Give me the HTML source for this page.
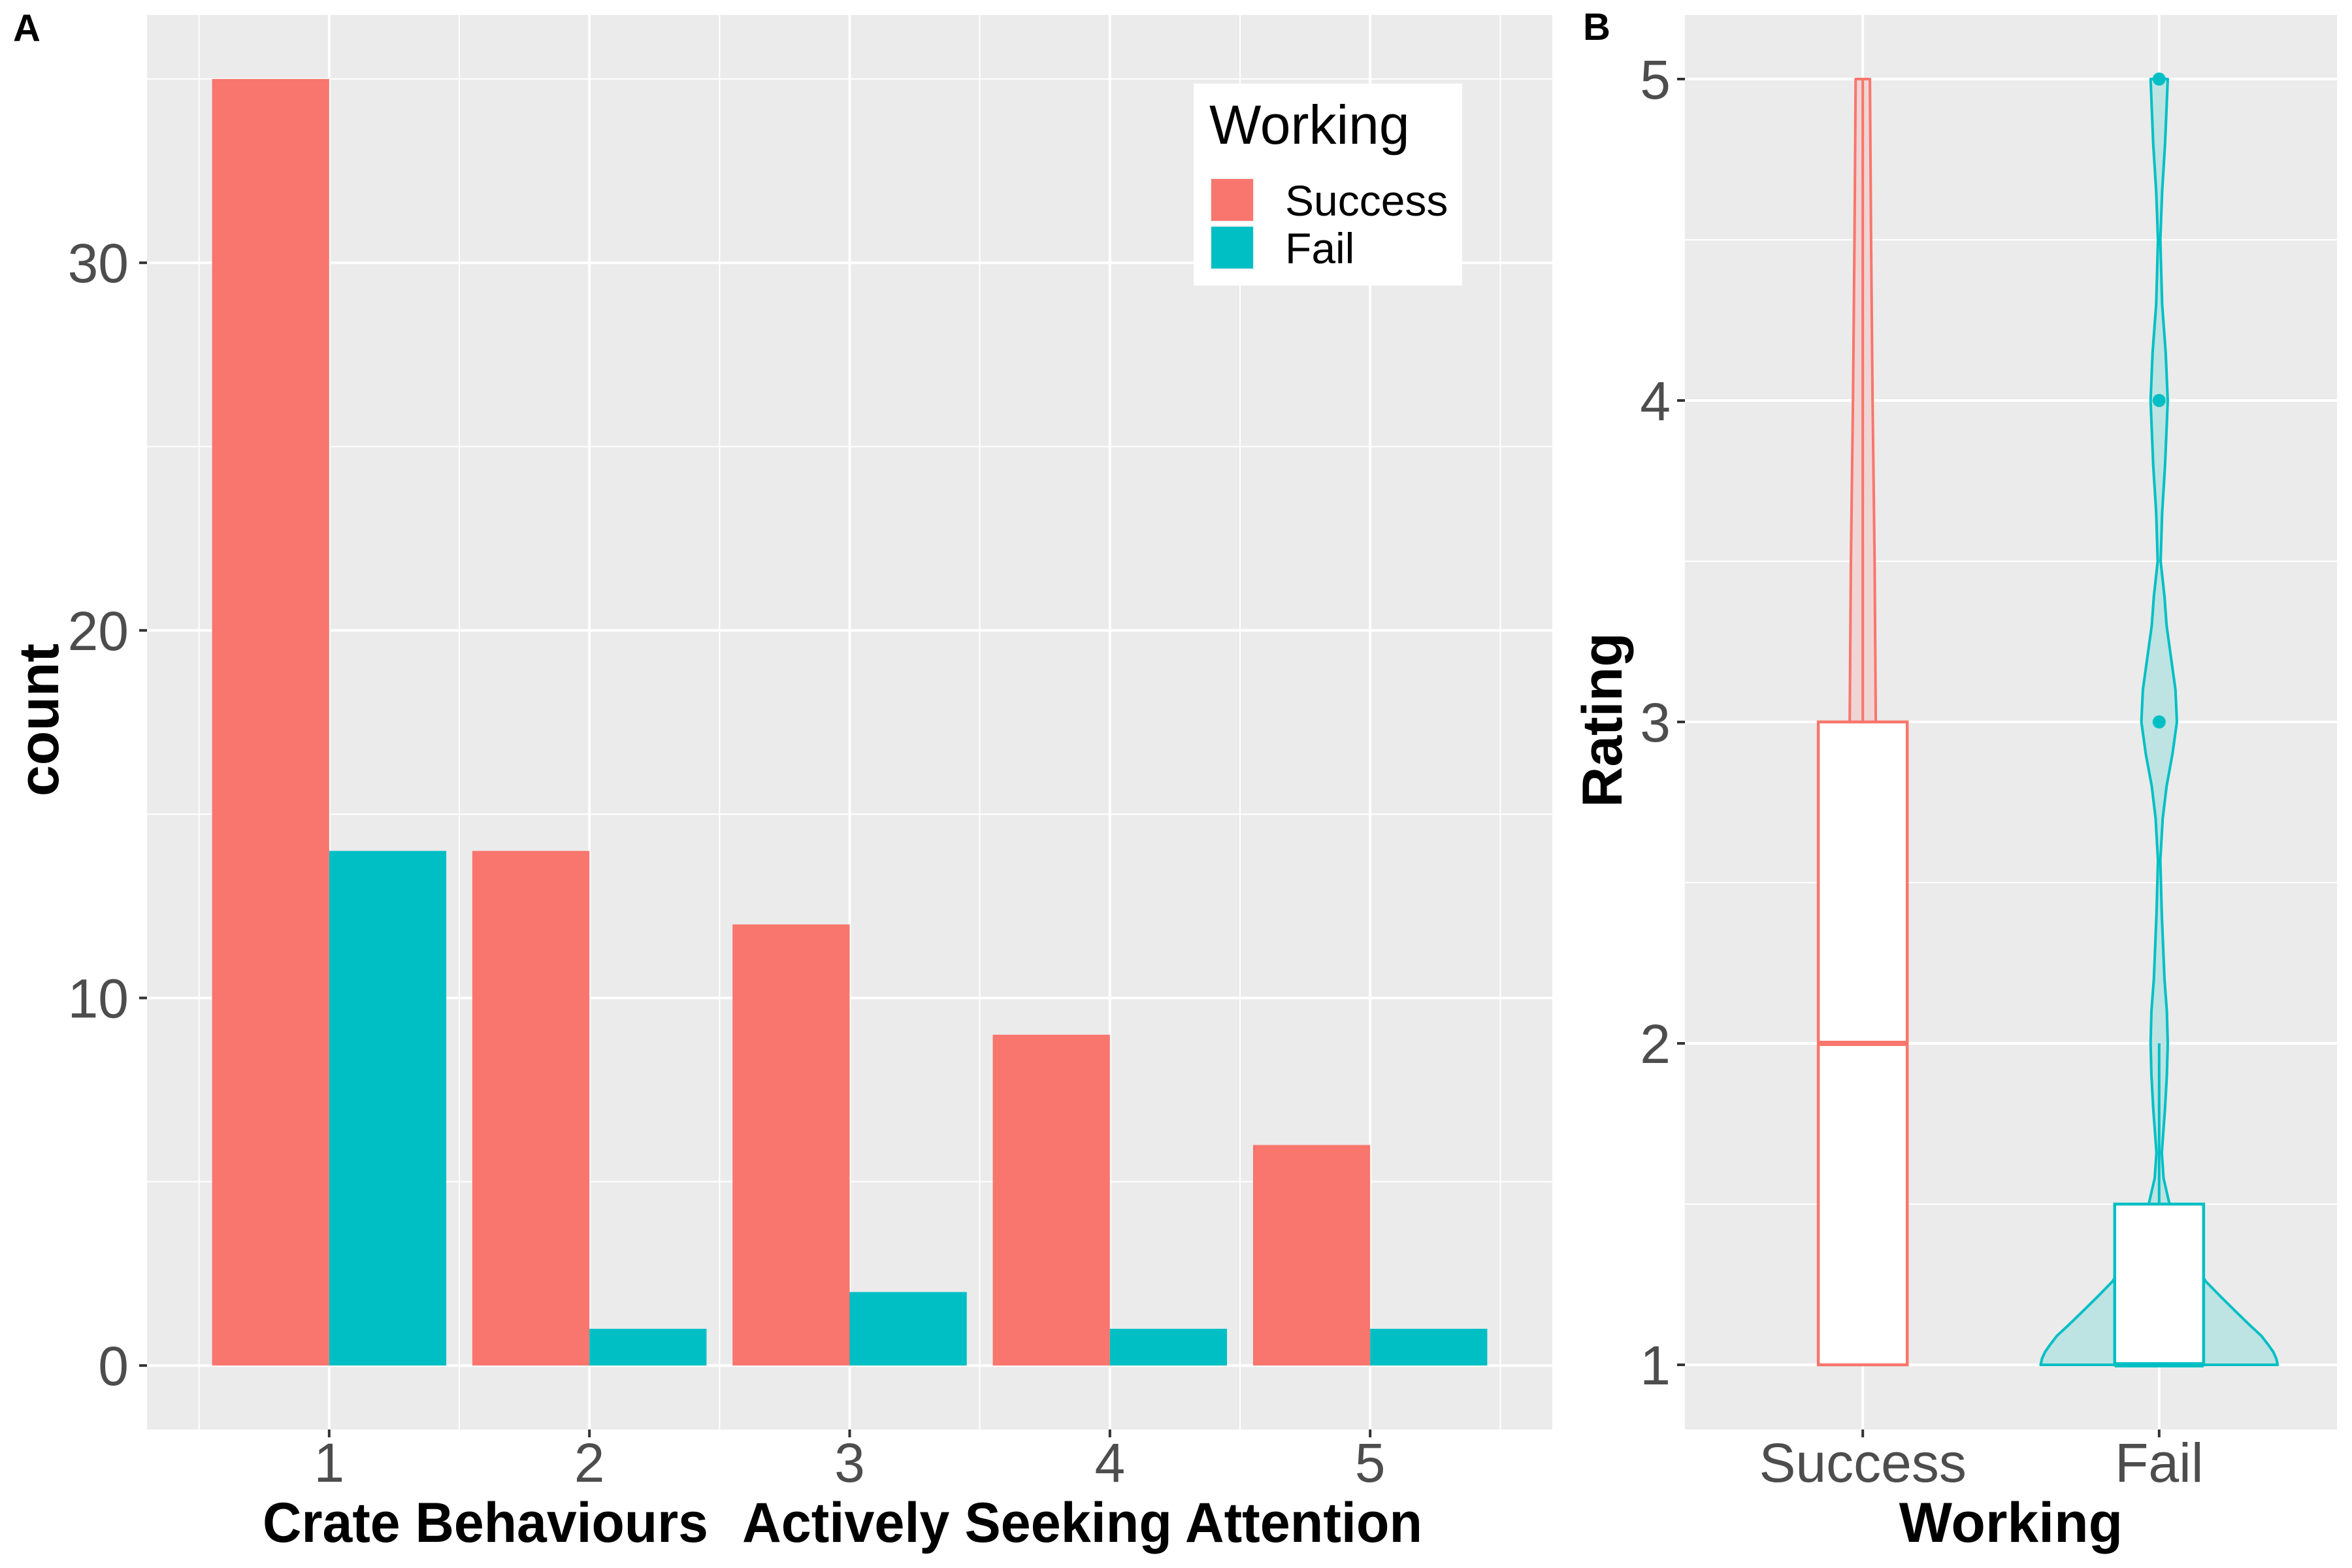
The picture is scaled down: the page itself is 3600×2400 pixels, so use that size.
<!DOCTYPE html>
<html><head><meta charset="utf-8">
<style>
html,body{margin:0;padding:0;background:#fff;}
svg{display:block;font-family:"Liberation Sans",Arial,sans-serif;}
</style></head>
<body>
<svg id="chart" xmlns="http://www.w3.org/2000/svg" width="3600" height="2400" viewBox="0 0 3600 2400">
<rect width="3600" height="2400" fill="#fff"/>
<g id="panelA"></g>
<g id="panelB"></g>
</svg>
<script>
// ---- Panel A data ----
const categories = [1, 2, 3, 4, 5];
const successCounts = [35, 14, 12, 9, 6];
const failCounts = [14, 1, 2, 1, 1];
const yTicksA = [0, 10, 20, 30];
const seriesNames = ["Success", "Fail"];
// ---- Panel B data ----
const groupsB = ["Success", "Fail"];
const yTicksB = [1, 2, 3, 4, 5];
const boxLower = [1, 1];
const boxMedian = [2, 1];
const boxUpper = [3, 1.5];
const whiskerHigh = [5, 2];
const failOutliers = [3, 4, 5];
const successViolinY = [1, 1.5, 2, 2.5, 3, 3.5, 4, 4.5, 5];
const successViolinW = [0.12, 0.11, 0.1, 0.07, 0.044, 0.04, 0.033, 0.028, 0.024];
const failViolinY = [1, 1.02, 1.04, 1.06, 1.09, 1.12, 1.16, 1.21, 1.26, 1.33, 1.4, 1.5, 1.58, 1.66, 1.8, 1.9, 2.0, 2.1, 2.2, 2.4, 2.57, 2.7, 2.8, 2.9, 3.0, 3.1, 3.2, 3.3, 3.39, 3.5, 3.65, 3.8, 4.0, 4.15, 4.3, 4.5, 4.65, 4.8, 5.0];
const failViolinW = [0.40, 0.395, 0.385, 0.37, 0.345, 0.31, 0.265, 0.21, 0.157, 0.11, 0.07, 0.035, 0.015, 0.009, 0.02, 0.026, 0.029, 0.026, 0.018, 0.009, 0.004, 0.012, 0.025, 0.045, 0.06, 0.055, 0.04, 0.025, 0.018, 0.005, 0.01, 0.02, 0.029, 0.022, 0.01, 0.004, 0.01, 0.02, 0.029];

const NS = "http://www.w3.org/2000/svg";
const RED = "#F8766D", CYAN = "#00BFC4";
function mk(tag, attrs, parent, txt) {
  const e = document.createElementNS(NS, tag);
  for (const k in attrs) e.setAttribute(k, attrs[k]);
  if (txt !== undefined) e.textContent = txt;
  parent.appendChild(e);
  return e;
}

// ================= Panel A =================
const A = document.getElementById("panelA");
const aL = 225, aR = 2376, aT = 23, aB = 2188;
const xA = v => aL + (v - 0.3) / 5.4 * (aR - aL);
const yA = v => aB - (v + 1.74) / 38.48 * (aB - aT);
const bgA = mk("rect", {x: aL, y: aT, width: aR - aL, height: aB - aT, fill: "#EBEBEB"}, A);


for (let v = 5; v <= 35; v += 10) {
  const l = mk("line", {x1: aL, x2: aR, y1: yA(v), y2: yA(v), stroke: "#fff", "stroke-width": 2}, A);
  
  
}
for (let i = 0; i <= categories.length; i++) {
  const v = categories[0] - 0.5 + i;
  const l = mk("line", {x1: xA(v), x2: xA(v), y1: aT, y2: aB, stroke: "#fff", "stroke-width": 2}, A);
  
  
}
yTicksA.forEach(v => {
  const l = mk("line", {x1: aL, x2: aR, y1: yA(v), y2: yA(v), stroke: "#fff", "stroke-width": 4}, A);
  
  
  const t = mk("line", {x1: aL - 12, x2: aL, y1: yA(v), y2: yA(v), stroke: "#333", "stroke-width": 4}, A);
  
  
  const tx = mk("text", {x: aL - 28, y: yA(v) + 30, "text-anchor": "end", "font-size": 84, fill: "#4D4D4D"}, A, String(v));
  
  
});
categories.forEach(c => {
  const l = mk("line", {x1: xA(c), x2: xA(c), y1: aT, y2: aB, stroke: "#fff", "stroke-width": 4}, A);
  
  
  const t = mk("line", {x1: xA(c), x2: xA(c), y1: aB, y2: aB + 12, stroke: "#333", "stroke-width": 4}, A);
  
  
  const tx = mk("text", {x: xA(c), y: 2268, "text-anchor": "middle", "font-size": 84, fill: "#4D4D4D"}, A, String(c));
  
  
});
categories.forEach((c, i) => {
  const b1 = mk("rect", {x: xA(c - 0.45), y: yA(successCounts[i]), width: xA(c) - xA(c - 0.45), height: yA(0) - yA(successCounts[i]), fill: RED}, A);
  
  
  const b2 = mk("rect", {x: xA(c), y: yA(failCounts[i]), width: xA(c + 0.45) - xA(c), height: yA(0) - yA(failCounts[i]), fill: CYAN}, A);
  
  
});
const yTitleA = mk("text", {x: 89, y: 1102, transform: "rotate(-90 89 1102)", "text-anchor": "middle", "font-size": 86, "font-weight": "bold", fill: "#000"}, A, "count");


const xTitleA1 = mk("text", {x: 402, y: 2360, "font-size": 86, "font-weight": "bold", fill: "#000", textLength: 682, lengthAdjust: "spacingAndGlyphs"}, A, "Crate Behaviours");


const xTitleA2 = mk("text", {x: 1136, y: 2360, "font-size": 86, "font-weight": "bold", fill: "#000", textLength: 1041, lengthAdjust: "spacingAndGlyphs"}, A, "Actively Seeking Attention");


const labA = mk("text", {x: 20, y: 63, "font-size": 58, "font-weight": "bold", fill: "#000"}, A, "A");


// legend
const lg = mk("g", {}, A);


mk("rect", {x: 1827, y: 128, width: 411, height: 309, fill: "#fff"}, lg);
const lgt = mk("text", {x: 1851, y: 220, "font-size": 84, fill: "#000"}, lg, "Working");


[RED, CYAN].forEach((col, i) => {
  const y0 = 273 + i * 73;
  const k = mk("rect", {x: 1853, y: y0, width: 66, height: 66, fill: col, stroke: "#F2F2F2", "stroke-width": 2}, lg);
  
  
  const t = mk("text", {x: 1967, y: y0 + 57, "font-size": 66, fill: "#000"}, lg, seriesNames[i]);
  
  
});

// ================= Panel B =================
const B = document.getElementById("panelB");
const bL = 2579, bR = 3577, bT = 23, bB = 2188;
const xB = v => bL + (v - 0.4) / 2.2 * (bR - bL);
const yB = v => 2089 - (v - 1) * 492;
const bgB = mk("rect", {x: bL, y: bT, width: bR - bL, height: bB - bT, fill: "#EBEBEB"}, B);


for (let v = 1.5; v < 5.6; v += 1) {
  const l = mk("line", {x1: bL, x2: bR, y1: yB(v), y2: yB(v), stroke: "#fff", "stroke-width": 2}, B);
  
  
}
yTicksB.forEach(v => {
  const l = mk("line", {x1: bL, x2: bR, y1: yB(v), y2: yB(v), stroke: "#fff", "stroke-width": 4}, B);
  
  
  const t = mk("line", {x1: bL - 12, x2: bL, y1: yB(v), y2: yB(v), stroke: "#333", "stroke-width": 4}, B);
  
  
  const tx = mk("text", {x: bL - 22, y: yB(v) + 30, "text-anchor": "end", "font-size": 84, fill: "#4D4D4D"}, B, String(v));
  
  
});
groupsB.forEach((g, i) => {
  const cx = xB(i + 1);
  const l = mk("line", {x1: cx, x2: cx, y1: bT, y2: bB, stroke: "#fff", "stroke-width": 4}, B);
  
  
  const t = mk("line", {x1: cx, x2: cx, y1: bB, y2: bB + 12, stroke: "#333", "stroke-width": 4}, B);
  
  
  const tx = mk("text", {x: cx, y: 2268, "text-anchor": "middle", "font-size": 84, fill: "#4D4D4D"}, B, g);
  
  
});
const unitB = xB(2) - xB(1);
function violinPath(cx, ys, ws) {
  let right = ys.map((y, j) => (cx + ws[j] * unitB).toFixed(1) + "," + yB(y).toFixed(1));
  let left = ys.map((y, j) => (cx - ws[j] * unitB).toFixed(1) + "," + yB(y).toFixed(1)).reverse();
  return "M" + right.join(" L") + " L" + left.join(" L") + " Z";
}
const violins = [[successViolinY, successViolinW, RED, "#F0D5D5"], [failViolinY, failViolinW, CYAN, "#BDE3E3"]];
groupsB.forEach((g, i) => {
  const cx = xB(i + 1);
  const vd = violins[i];
  const vp = mk("path", {d: violinPath(cx, vd[0], vd[1]), fill: vd[3], stroke: vd[2], "stroke-width": 4, "stroke-linejoin": "round"}, B);
  
  
  const wk = mk("line", {x1: cx, x2: cx, y1: yB(boxUpper[i]), y2: yB(whiskerHigh[i]), stroke: vd[2], "stroke-width": 4}, B);
  
  
  const hw = 0.15 * unitB;
  const bx = mk("rect", {x: cx - hw, y: yB(boxUpper[i]), width: 2 * hw, height: yB(boxLower[i]) - yB(boxUpper[i]), fill: "#fff", stroke: vd[2], "stroke-width": 4.5}, B);
  
  
  const md = mk("line", {x1: cx - hw, x2: cx + hw, y1: yB(boxMedian[i]), y2: yB(boxMedian[i]), stroke: vd[2], "stroke-width": 8}, B);
  
  
});
failOutliers.forEach(v => {
  const c = mk("circle", {cx: xB(2), cy: yB(v), r: 10, fill: CYAN}, B);
  
  
});
const yTitleB = mk("text", {x: 2482, y: 1102, transform: "rotate(-90 2482 1102)", "text-anchor": "middle", "font-size": 86, "font-weight": "bold", fill: "#000"}, B, "Rating");


const xTitleB = mk("text", {x: (bL + bR) / 2, y: 2360, "text-anchor": "middle", "font-size": 86, "font-weight": "bold", fill: "#000"}, B, "Working");


const labB = mk("text", {x: 2423, y: 61, "font-size": 58, "font-weight": "bold", fill: "#000"}, B, "B");


</script>
</body></html>
